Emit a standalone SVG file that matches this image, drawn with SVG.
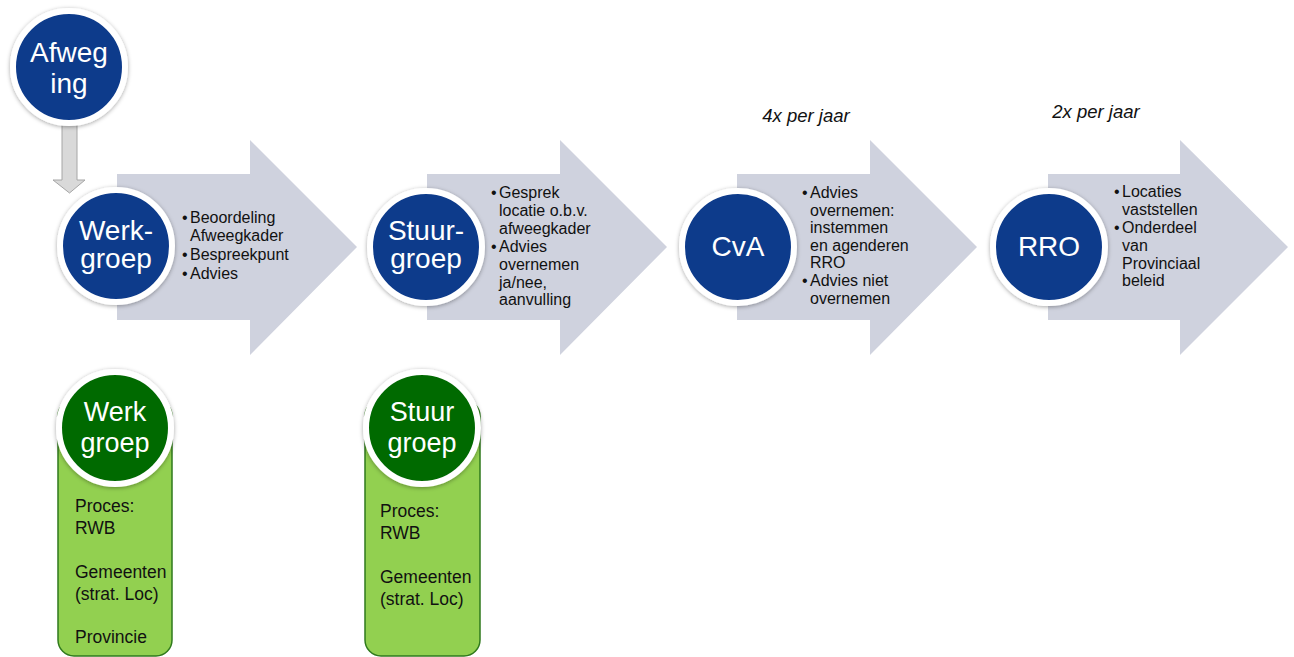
<svg xmlns="http://www.w3.org/2000/svg" width="1294" height="657" viewBox="0 0 1294 657">
<defs>
<style>
.arrow{fill:#cfd2de;}
.blue{fill:#0e3b8b;stroke:#ffffff;stroke-width:6;}
.green{fill:#046a06;stroke:#ffffff;stroke-width:6;}
.box{fill:#92d050;stroke:#2f7a1c;stroke-width:1.5;}
.ct{font-family:"Liberation Sans",Arial,sans-serif;fill:#ffffff;text-anchor:middle;}
.bt{font-family:"Liberation Sans",Arial,sans-serif;fill:#111111;font-size:16px;}
.gt{font-family:"Liberation Sans",Arial,sans-serif;fill:#111111;font-size:17.5px;}
.it{font-family:"Liberation Sans",Arial,sans-serif;fill:#111111;font-size:18.5px;font-style:italic;}
</style>
<filter id="sh" x="-20%" y="-20%" width="140%" height="140%">
<feDropShadow dx="0" dy="1" stdDeviation="2" flood-color="#000000" flood-opacity="0.35"/>
</filter>
</defs>

<g id="connectors">
<path d="M62,110 H77 V180 H85 L69.5,193 L53,180 H62 Z" fill="#d9d9d9" stroke="#a6a6a6" stroke-width="1"/>
</g>

<g id="arrow-werkgroep">
<path class="arrow" d="M117,174 H250 V140 L357,247 L250,355 V320 H117 Z"/>
<text class="bt"><tspan x="182" y="223">•</tspan><tspan x="190" y="223">Beoordeling</tspan><tspan x="190" y="241">Afweegkader</tspan><tspan x="182" y="260">•</tspan><tspan x="190" y="260">Bespreekpunt</tspan><tspan x="182" y="279">•</tspan><tspan x="190" y="279">Advies</tspan></text>
</g>
<g id="arrow-stuurgroep">
<path class="arrow" d="M427,174 H560 V140 L667,247 L560,355 V320 H427 Z"/>
<text class="bt"><tspan x="491" y="198">•</tspan><tspan x="499" y="198">Gesprek</tspan><tspan x="499" y="216">locatie o.b.v.</tspan><tspan x="499" y="234">afweegkader</tspan><tspan x="491" y="252">•</tspan><tspan x="499" y="252">Advies</tspan><tspan x="499" y="270">overnemen</tspan><tspan x="499" y="288">ja/nee,</tspan><tspan x="499" y="305">aanvulling</tspan></text>
</g>
<g id="arrow-cva">
<path class="arrow" d="M737,174 H870 V140 L977,247 L870,355 V320 H737 Z"/>
<text class="bt"><tspan x="802" y="198">•</tspan><tspan x="810" y="198">Advies</tspan><tspan x="810" y="216">overnemen:</tspan><tspan x="810" y="233">instemmen</tspan><tspan x="810" y="251">en agenderen</tspan><tspan x="810" y="268">RRO</tspan><tspan x="802" y="286">•</tspan><tspan x="810" y="286">Advies niet</tspan><tspan x="810" y="304">overnemen</tspan></text>
<text class="it" x="806" y="122" text-anchor="middle">4x per jaar</text>
</g>
<g id="arrow-rro">
<path class="arrow" d="M1048,174 H1180 V140 L1288,247 L1180,355 V320 H1048 Z"/>
<text class="bt"><tspan x="1114" y="197">•</tspan><tspan x="1122" y="197">Locaties</tspan><tspan x="1122" y="215">vaststellen</tspan><tspan x="1114" y="233">•</tspan><tspan x="1122" y="233">Onderdeel</tspan><tspan x="1122" y="251">van</tspan><tspan x="1122" y="269">Provinciaal</tspan><tspan x="1122" y="286">beleid</tspan></text>
<text class="it" x="1096" y="118" text-anchor="middle">2x per jaar</text>
</g>

<g id="node-afweging">
<circle class="blue" cx="69" cy="67" r="56" filter="url(#sh)"/>
<text class="ct" font-size="28"><tspan x="69" y="62">Afweg</tspan><tspan x="69" y="93">ing</tspan></text>
</g>
<g id="node-werkgroep">
<circle class="blue" cx="116" cy="246" r="56" filter="url(#sh)"/>
<text class="ct" font-size="28"><tspan x="116" y="240">Werk-</tspan><tspan x="116" y="268">groep</tspan></text>
</g>
<g id="node-stuurgroep">
<circle class="blue" cx="426" cy="247" r="56" filter="url(#sh)"/>
<text class="ct" font-size="28"><tspan x="426" y="240">Stuur-</tspan><tspan x="426" y="268">groep</tspan></text>
</g>
<g id="node-cva">
<circle class="blue" cx="738" cy="247" r="56" filter="url(#sh)"/>
<text class="ct" font-size="28" x="738" y="256">CvA</text>
</g>
<g id="node-rro">
<circle class="blue" cx="1049" cy="247" r="56" filter="url(#sh)"/>
<text class="ct" font-size="28" x="1049" y="256">RRO</text>
</g>

<g id="node-werkgroep-green">
<rect class="box" x="58" y="400" width="114" height="256" rx="16"/>
<circle class="green" cx="115" cy="428" r="56" filter="url(#sh)"/>
<text class="ct" font-size="27"><tspan x="115" y="421">Werk</tspan><tspan x="115" y="452">groep</tspan></text>
<text class="gt"><tspan x="75" y="512">Proces:</tspan><tspan x="75" y="534">RWB</tspan><tspan x="75" y="578">Gemeenten</tspan><tspan x="75" y="600">(strat. Loc)</tspan><tspan x="75" y="643">Provincie</tspan></text>
</g>
<g id="node-stuurgroep-green">
<rect class="box" x="365" y="400" width="115" height="256" rx="16"/>
<circle class="green" cx="422" cy="428" r="56" filter="url(#sh)"/>
<text class="ct" font-size="27"><tspan x="422" y="421">Stuur</tspan><tspan x="422" y="452">groep</tspan></text>
<text class="gt"><tspan x="380" y="517">Proces:</tspan><tspan x="380" y="539">RWB</tspan><tspan x="380" y="583">Gemeenten</tspan><tspan x="380" y="605">(strat. Loc)</tspan></text>
</g>
</svg>
